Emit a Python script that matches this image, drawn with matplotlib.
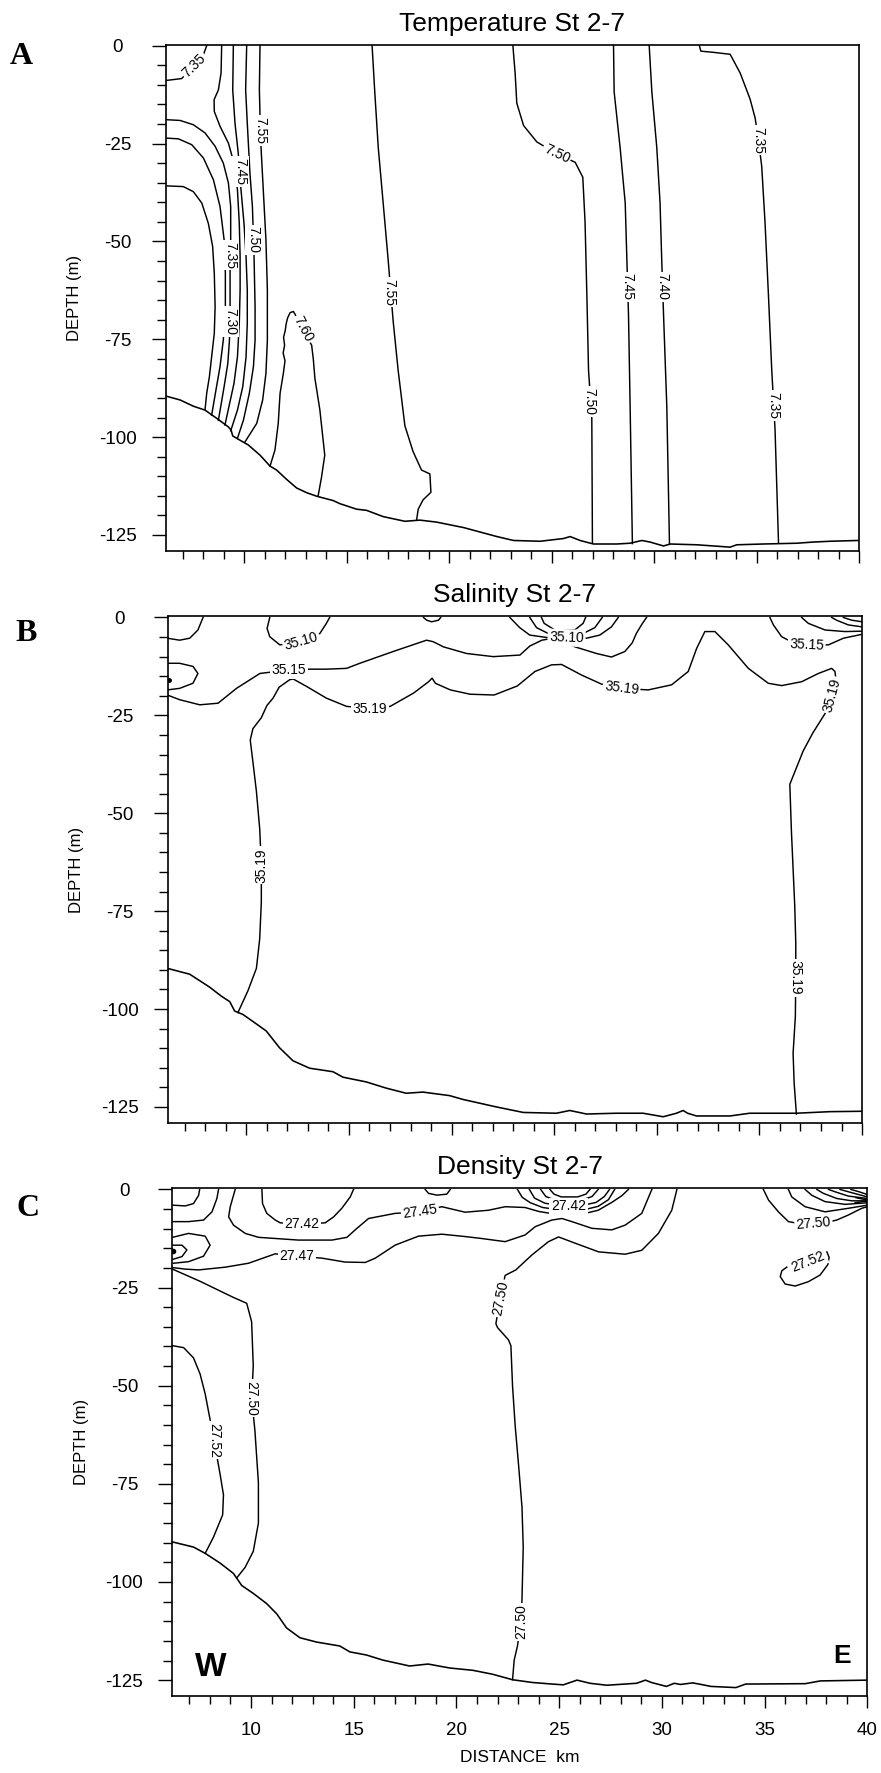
import numpy as np
import matplotlib
matplotlib.use("Agg")
import matplotlib.pyplot as plt

plt.rcParams['font.family'] = ['Liberation Sans', 'DejaVu Sans']

# ---------------- A: temperature ----------------
temp_bottom_km = [6.17, 6.87, 7.52, 8.09, 8.74, 9.23, 9.36, 9.44, 9.80, 10.20, 10.77, 11.26, 11.58,
                  12.07, 12.56, 13.05, 13.54, 14.34, 14.67, 15.48, 15.97, 16.78, 17.84, 18.57, 19.38,
                  20.70, 22.33, 23.14, 24.44, 25.58, 25.90, 26.39, 27.04, 28.18, 28.83, 29.40, 29.80,
                  30.46, 30.78, 32.08, 33.71, 34.03, 35.33, 36.96, 37.77, 38.58, 39.94, 40.0]
temp_bottom_z = [-89.5, -90.5, -92.1, -93.1, -95.5, -97.4, -98.2, -99.7, -100.8, -102.0, -104.6, -107.4, -108.4,
                 -110.8, -113.0, -114.2, -115.1, -116.2, -117.0, -118.4, -118.7, -120.3, -121.5, -121.2, -121.7,
                 -123.1, -125.4, -126.4, -126.6, -125.9, -125.4, -126.4, -127.3, -127.3, -127.1, -126.4, -126.8,
                 -127.8, -127.3, -127.5, -128.1, -127.5, -127.3, -127.1, -126.8, -126.6, -126.4, -126.4]

temp_lines = [
    (7.35, [6.17, 6.95, 7.55, 8.01, 8.17], [-8.9, -8.4, -5.0, -2.3, 0.0]),
    (7.30, [6.17, 7.03, 7.52, 7.93, 8.25, 8.46, 8.54, 8.58, 8.54, 8.41, 8.30, 8.17, 8.09],
           [-35.8, -36.0, -37.3, -40.2, -45.4, -51.3, -58.1, -66.7, -73.5, -79.5, -84.6, -88.8, -92.9]),
    (7.30, [6.17, 6.79, 7.44, 8.01, 8.50, 8.82, 9.02, 9.08, 9.08, 8.98, 8.82, 8.62, 8.41],
           [-23.6, -23.8, -25.3, -28.7, -34.3, -41.1, -49.6, -58.1, -66.7, -75.2, -82.0, -88.0, -94.4]),
    (7.35, [6.17, 6.87, 7.52, 8.09, 8.58, 8.98, 9.23, 9.34, 9.34, 9.31, 9.31, 9.28, 9.20, 9.02, 8.74],
           [-18.9, -19.1, -20.2, -22.3, -25.7, -30.0, -35.1, -41.1, -49.6, -58.1, -66.7, -75.2, -81.2, -87.1, -95.7]),
    (7.40, [8.90, 8.87, 8.74, 8.53, 8.54, 8.82, 9.23, 9.50, 9.67, 9.76, 9.80, 9.80, 9.76, 9.67, 9.50, 9.06],
           [0.0, -7.0, -11.3, -13.8, -16.8, -20.6, -24.9, -30.0, -36.8, -45.4, -53.9, -62.4, -70.9, -79.5, -86.3, -96.9]),
    (7.45, [9.47, 9.44, 9.55, 9.71, 9.83, 9.99, 10.09, 10.15, 10.15, 10.09, 9.93, 9.67, 9.34],
           [0.0, -11.3, -19.8, -27.5, -36.0, -45.4, -53.9, -62.4, -70.9, -79.5, -87.1, -93.1, -98.4]),
    (7.50, [10.12, 10.07, 10.15, 10.28, 10.40, 10.48, 10.53, 10.53, 10.45, 10.25, 9.96, 9.67],
           [0.0, -11.3, -19.8, -32.6, -41.1, -53.9, -66.7, -75.2, -82.0, -88.8, -95.7, -100.3]),
    (7.55, [10.77, 10.74, 10.80, 10.93, 11.06, 11.13, 11.13, 11.06, 10.90, 10.61, 10.04],
           [0.0, -11.3, -24.0, -36.8, -49.6, -62.4, -75.2, -83.7, -90.5, -96.5, -101.2]),
    (7.60, [11.26, 11.50, 11.66, 11.75, 11.91, 11.99, 11.90, 11.97, 11.92, 12.00, 12.05, 12.12, 12.24,
            12.40, 12.50, 12.85, 13.29, 13.37, 13.45, 13.69, 13.93, 13.77, 13.61],
           [-107.4, -103.3, -96.5, -88.8, -83.7, -80.5, -78.5, -76.5, -74.5, -72.8, -71.0, -69.5, -68.2,
            -67.9, -68.8, -72.5, -76.5, -80.0, -85.0, -93.0, -104.6, -110.3, -114.9]),
    (7.55, [16.24, 16.37, 16.54, 16.78, 17.02, 17.27, 17.51, 17.84, 18.24, 18.65, 19.06, 19.11, 18.73, 18.49, 18.41],
           [0.0, -11.8, -26.0, -40.2, -54.5, -70.5, -82.9, -97.1, -103.7, -108.4, -109.4, -114.1, -116.0, -118.4, -121.2]),
    (7.50, [23.11, 23.22, 23.30, 23.63, 24.28, 25.25, 26.15, 26.52, 26.63, 26.72, 26.80, 26.96, 26.99],
           [0.0, -7.1, -14.7, -20.4, -24.6, -27.6, -29.8, -33.6, -45.0, -63.9, -82.9, -95.2, -127.0]),
    (7.45, [28.02, 28.05, 28.34, 28.59, 28.67, 28.75, 28.83, 28.94],
           [0.0, -11.8, -26.0, -40.2, -54.5, -68.7, -92.3, -127.2]),
    (7.40, [29.76, 29.89, 30.13, 30.29, 30.37, 30.46, 30.62, 30.75],
           [0.0, -11.8, -26.0, -40.2, -54.5, -68.7, -92.3, -127.4]),
    (7.35, [32.21, 32.28, 32.89, 33.71, 34.20, 34.68, 34.93, 35.09, 35.25, 35.41, 35.58, 35.74, 35.90, 36.07],
           [0.0, -1.4, -1.7, -2.2, -7.0, -13.6, -18.5, -24.1, -30.8, -45.0, -63.9, -82.9, -98.0, -127.1]),
]

# (value, km, depth, angle)
temp_labels = [
    (7.35, 7.55, -5.0, 45), (7.55, 10.77, -21.7, -90), (7.45, 9.80, -32.1, -90),
    (7.50, 10.45, -49.6, -90), (7.35, 9.34, -53.5, -90), (7.30, 9.31, -70.5, -90),
    (7.60, 12.85, -72.5, -62), (7.55, 17.10, -63.0, -90), (7.50, 25.25, -27.6, -25),
    (7.50, 26.85, -90.9, -90), (7.45, 28.67, -61.6, -90), (7.40, 30.42, -61.6, -90),
    (7.35, 35.09, -24.1, -90), (7.35, 35.82, -91.9, -90),
]

# ---------------- B: salinity ----------------
sal_bottom_km = [6.15, 7.24, 8.21, 8.78, 9.19, 9.43, 9.84, 10.49, 10.97, 11.62, 12.27, 13.08, 14.22, 14.71,
                 15.84, 16.82, 17.79, 18.60, 19.90, 20.57, 22.19, 23.49, 25.11, 25.76, 26.57, 28.04, 29.33,
                 30.31, 30.96, 31.28, 31.50, 31.93, 33.56, 34.53, 36.80, 38.43, 40.0]
sal_bottom_z = [-89.6, -91.1, -94.4, -96.7, -98.1, -100.5, -101.4, -103.8, -105.6, -109.9, -113.2, -115.1, -116.0, -117.4,
                -118.6, -120.2, -121.5, -121.2, -122.1, -123.1, -125.0, -126.4, -126.6, -125.9, -126.8, -126.6, -126.6,
                -127.5, -126.6, -125.9, -126.6, -127.3, -127.3, -126.6, -126.6, -126.2, -126.1]

sal_lines = [
    (35.10, [6.15, 6.75, 7.24, 7.64, 7.89], [-5.3, -5.8, -5.3, -3.2, 0.0]),
    (35.15, [6.15, 6.75, 7.40, 7.64, 7.40, 6.75, 6.15], [-11.7, -11.7, -12.5, -14.3, -16.8, -18.1, -18.5]),
    (35.10, [11.14, 11.01, 11.14, 11.63, 12.68, 13.58, 13.90, 14.06], [0.0, -2.8, -4.9, -7.0, -6.2, -4.1, -1.5, 0.0]),
    (35.10, [18.63, 18.79, 19.03, 19.36, 19.47], [0.0, -0.7, -1.1, -0.7, 0.0]),
    (35.15, [6.15, 6.75, 7.73, 8.62, 9.52, 10.66, 12.06, 13.09, 13.90, 14.88, 15.53, 17.15, 18.78, 19.11,
             19.60, 20.73, 22.03, 23.33, 23.81, 24.40, 24.95, 25.50, 26.01, 27.06, 27.79, 28.44, 28.80, 29.01, 29.30, 29.50],
            [-19.8, -21.0, -22.3, -21.9, -18.1, -14.3, -13.4, -13.2, -13.2, -13.0, -11.7, -8.7, -5.8, -6.2,
             -7.5, -9.2, -10.0, -9.6, -7.3, -5.8, -5.3, -6.2, -7.5, -9.2, -10.1, -8.7, -6.5, -4.0, -1.5, 0.0]),
    (35.05, [24.38, 24.51, 25.03, 26.00, 26.41, 26.53], [0.0, -1.5, -3.2, -3.2, -1.5, 0.0]),
    (35.07, [23.81, 24.14, 24.79, 26.33, 26.98, 27.34], [0.0, -2.6, -4.3, -4.3, -2.6, 0.0]),
    (35.10, [22.84, 23.32, 23.81, 24.62, 25.60, 26.57, 27.22, 27.79, 28.12], [0.0, -2.6, -4.5, -5.1, -5.2, -5.3, -4.5, -2.4, 0.0]),
    (35.19, [9.59, 10.08, 10.49, 10.65, 10.73, 10.73, 10.65, 10.49, 10.32, 10.19, 10.32, 10.73, 11.00, 11.30,
             11.60, 12.11, 12.28, 12.93, 13.90, 14.88, 16.03, 17.01, 18.15, 18.88, 19.05, 19.21, 19.94, 20.90,
             22.07, 23.20, 24.06, 24.87, 25.36, 26.33, 27.30, 28.28, 29.58, 30.72, 31.53, 31.94, 32.34, 32.83,
             33.48, 34.46, 35.43, 36.08, 37.06, 37.87, 38.52, 38.68, 38.71, 38.60, 38.52, 38.20, 37.60, 37.13,
             36.48, 36.56, 36.72, 36.77, 36.77, 36.75, 36.64, 36.69, 36.80],
            [-100.9, -95.3, -89.6, -82.1, -72.7, -63.3, -53.9, -44.4, -36.9, -31.3, -28.4, -25.6, -22.5, -20.6,
             -17.8, -15.9, -15.7, -17.6, -20.6, -22.7, -23.3, -22.7, -19.3, -16.4, -15.5, -16.8, -18.5, -19.6,
             -19.8, -17.5, -13.8, -12.1, -12.0, -14.7, -17.0, -18.1, -18.5, -17.2, -13.8, -7.9, -3.6, -3.6,
             -7.0, -13.0, -16.8, -17.4, -16.4, -14.3, -13.0, -13.8, -15.1, -16.8, -19.8, -24.5, -29.5, -34.1,
             -42.6, -54.8, -73.6, -83.1, -92.0, -101.9, -111.3, -118.8, -126.8]),
    (35.15, [35.51, 35.68, 36.08, 36.70, 37.30, 38.36, 39.09, 39.82, 40.0], [0.0, -1.9, -4.9, -6.6, -6.9, -7.0, -5.3, -4.5, -4.3]),
    (35.10, [37.06, 37.38, 38.20, 39.17, 40.0], [0.0, -1.5, -3.2, -3.6, -3.5]),
    (35.05, [38.52, 38.76, 39.33, 40.0], [0.0, -0.7, -1.9, -2.4]),
    (35.00, [39.09, 39.50, 40.0], [0.0, -0.7, -1.1]),
]

sal_labels = [
    (35.10, 12.68, -6.2, 16), (35.15, 12.06, -13.4, 0), (35.19, 16.03, -23.3, 0),
    (35.19, 10.73, -63.3, 90), (35.10, 25.60, -5.2, -2), (35.19, 28.28, -18.1, -7),
    (35.15, 37.30, -6.9, -3), (35.19, 38.52, -19.8, 75), (35.19, 36.77, -92.0, -90),
]

# ---------------- C: density ----------------
dens_bottom_km = [6.18, 7.20, 7.77, 8.50, 9.14, 9.34, 9.55, 10.11, 10.76, 11.25, 11.73, 12.38, 13.19, 14.32,
                  14.81, 15.62, 16.42, 17.72, 18.62, 19.66, 20.80, 21.76, 22.73, 23.70, 24.66, 25.20, 25.87,
                  26.50, 27.32, 28.20, 28.77, 29.20, 29.49, 30.22, 30.60, 30.90, 31.50, 31.91, 32.39, 33.60,
                  34.08, 36.98, 37.71, 40.0]
dens_bottom_z = [-89.8, -91.1, -92.7, -95.2, -97.8, -99.3, -100.9, -102.9, -105.5, -108.1, -111.7, -114.2, -115.3, -116.3,
                 -117.8, -118.6, -119.9, -121.4, -120.9, -121.9, -122.5, -123.5, -124.9, -125.6, -126.0, -126.2, -125.0,
                 -125.8, -126.3, -126.0, -125.8, -125.0, -125.6, -126.6, -125.8, -126.1, -125.7, -126.1, -126.6, -126.9,
                 -126.0, -125.9, -125.2, -125.0]

dens_lines = [
    (27.42, [6.18, 6.80, 7.20, 7.45, 7.50], [-4.0, -4.2, -3.6, -1.5, 0.0]),
    (27.45, [6.18, 6.96, 7.69, 8.10, 8.34, 8.42], [-8.2, -8.2, -7.8, -5.7, -2.3, 0.0]),
    (27.47, [6.18, 6.96, 7.77, 8.01, 7.69, 6.96, 6.23], [-12.2, -11.2, -11.9, -14.2, -17.0, -18.4, -18.8]),
    (27.45, [6.18, 6.64, 6.88, 6.64, 6.20], [-14.2, -14.2, -15.4, -17.1, -17.8]),
    (27.42, [10.53, 10.56, 10.77, 11.18, 11.42, 12.48, 13.61, 14.02, 14.42, 14.83, 14.99],
             [0.0, -3.6, -6.1, -7.8, -8.5, -8.9, -8.5, -7.0, -4.8, -1.9, 0.0]),
    (27.45, [9.23, 8.99, 8.91, 9.15, 9.72, 10.37, 12.31, 13.94, 14.67, 15.07, 15.72, 17.01, 18.23, 19.29,
             20.42, 21.56, 22.37, 23.34, 24.00, 24.80, 26.10, 26.90, 27.56, 28.05, 28.37],
            [0.0, -4.4, -7.0, -9.1, -11.2, -12.2, -12.9, -12.9, -12.2, -10.3, -7.4, -6.1, -5.7, -4.4,
             -5.8, -5.3, -4.4, -4.6, -5.6, -6.3, -6.3, -5.3, -3.3, -1.6, 0.0]),
    (27.42, [18.48, 18.64, 19.05, 19.53, 19.70], [0.0, -1.0, -1.45, -1.2, 0.0]),
    (27.47, [6.18, 6.80, 7.45, 8.75, 9.88, 10.69, 11.18, 12.23, 13.45, 14.58, 15.56, 16.05, 17.01, 18.15,
             19.29, 20.42, 21.23, 22.37, 23.34, 23.83, 24.64, 25.13, 25.62, 26.59, 27.56, 28.21, 29.02, 29.51],
            [-19.9, -20.3, -20.5, -19.8, -18.8, -17.3, -16.4, -17.0, -17.5, -18.5, -18.6, -17.5, -14.2, -11.9,
             -11.4, -12.0, -12.5, -13.3, -11.6, -9.5, -7.8, -7.4, -8.2, -9.9, -10.3, -9.1, -6.1, 0.0]),
    (27.50, [6.18, 7.52, 9.14, 9.79, 10.03, 10.11, 10.03, 10.19, 10.36, 10.36, 10.11, 9.71, 9.30],
            [-20.3, -23.4, -27.5, -29.0, -33.7, -45.0, -53.2, -61.4, -74.7, -85.0, -92.2, -96.3, -99.0]),
    (27.52, [6.18, 6.72, 7.20, 7.52, 7.77, 8.20, 8.50, 8.66, 8.62, 8.17, 7.77],
            [-39.8, -40.3, -42.9, -47.0, -52.1, -63.9, -72.7, -77.8, -82.9, -88.6, -92.7]),
    (27.50, [22.73, 22.81, 22.97, 23.14, 23.19, 23.25, 23.19, 23.03, 22.86, 22.73, 22.65, 22.53, 22.00, 21.92,
             22.13, 22.37, 22.89, 23.67, 24.48, 24.97, 25.78, 26.92, 28.21, 29.02, 29.83, 30.48, 30.73],
            [-124.9, -119.9, -116.3, -110.1, -104.5, -91.1, -80.9, -70.6, -60.3, -50.1, -39.8, -38.3, -35.2, -34.2,
             -27.7, -21.9, -20.5, -16.7, -13.3, -12.1, -13.7, -15.9, -16.5, -15.5, -11.2, -5.3, 0.0]),
    (27.44, [22.97, 23.20, 23.60, 24.20, 25.00, 26.20, 26.90, 27.40, 27.70], [0.0, -2.0, -3.4, -4.6, -5.2, -5.2, -4.3, -2.6, 0.0]),
    (27.42, [23.55, 23.80, 24.30, 25.00, 26.10, 26.80, 27.20, 27.45], [0.0, -2.2, -3.5, -4.1, -4.1, -3.3, -1.8, 0.0]),
    (27.40, [24.10, 24.35, 24.90, 26.00, 26.60, 26.90], [0.0, -1.8, -2.9, -2.9, -1.8, 0.0]),
    (27.38, [24.55, 24.75, 25.10, 25.90, 26.30, 26.50], [0.0, -1.2, -1.9, -1.9, -1.2, 0.0]),
    (27.50, [34.94, 35.19, 35.67, 36.16, 36.80, 37.38, 38.00, 38.51, 39.08, 39.73, 40.0],
            [0.0, -2.7, -5.7, -8.2, -8.8, -8.7, -8.4, -7.8, -6.5, -4.8, -4.4]),
    (27.47, [36.16, 36.32, 36.97, 37.94, 39.08, 40.0], [0.0, -1.9, -4.4, -5.7, -4.8, -4.0]),
    (27.45, [36.97, 37.30, 37.94, 38.92, 40.0], [0.0, -1.5, -3.1, -3.8, -3.4]),
    (27.42, [37.54, 37.86, 38.51, 39.24, 40.0], [0.0, -1.0, -2.3, -2.9, -2.9]),
    (27.40, [38.11, 38.43, 39.08, 40.0], [0.0, -0.6, -1.7, -2.3]),
    (27.38, [38.67, 39.08, 40.0], [0.0, -0.6, -1.9]),
    (27.36, [39.20, 39.60, 40.0], [0.0, -0.6, -1.3]),
    (27.34, [39.45, 39.80, 40.0], [-2.1, -2.5, -2.6]),
    (27.32, [39.40, 39.75, 40.0], [-3.4, -3.1, -3.0]),
    (27.52, [36.08, 35.84, 35.76, 36.00, 36.49, 37.13, 37.70, 38.07, 38.14, 38.03],
            [-19.8, -20.7, -22.2, -24.1, -24.6, -23.5, -21.8, -19.2, -17.3, -15.9]),
]

dens_labels = [
    (27.42, 12.48, -8.9, 0), (27.45, 18.23, -5.7, 8), (27.47, 12.23, -17.0, 0),
    (27.50, 10.03, -53.2, -90), (27.52, 8.20, -63.9, -90), (27.50, 22.13, -27.7, 79),
    (27.50, 23.14, -110.1, 90), (27.42, 25.45, -4.3, 0), (27.50, 37.38, -8.7, 5),
    (27.52, 37.13, -18.4, 22),
]

sal_dot_km, sal_dot_z = [6.22], [-16.0]
dens_dot_km, dens_dot_z = [6.22], [-15.8]

titles = ['Temperature St 2-7', 'Salinity St 2-7', 'Density St 2-7']
letters = ['A', 'B', 'C']

fig = plt.figure(figsize=(8.81, 17.73), dpi=100)
rects = [
    [0.1881, 0.6892, 0.7870, 0.2857],
    [0.1904, 0.3666, 0.7881, 0.2858],
    [0.1956, 0.0433, 0.7889, 0.2865],
]
letter_pos = [(10, 64), (15, 641), (16, 1216)]

panels = [
    (temp_bottom_km, temp_bottom_z, temp_lines, temp_labels),
    (sal_bottom_km, sal_bottom_z, sal_lines, sal_labels),
    (dens_bottom_km, dens_bottom_z, dens_lines, dens_labels),
]

axes = []
for i, (bkm, bz, lines, labels) in enumerate(panels):
    ax = fig.add_axes(rects[i])
    axes.append(ax)
    ax.plot(bkm, bz, color='black', lw=1.15)
    for level, km, z in lines:
        ax.plot(km, z, color='black', lw=1.05)
    for val, km, z, rot in labels:
        ax.text(km, z, f'{val:.2f}', rotation=rot, rotation_mode='anchor', ha='center', va='center',
                fontsize=10, zorder=4,
                bbox=dict(boxstyle='square,pad=0.12', fc='white', ec='none'))

    ax.set_xlim(6.17, 40)
    ax.set_ylim(-129.1, 0.3)
    ax.set_xticks(np.arange(10, 41, 5))
    ax.set_xticks(np.arange(7, 41, 1), minor=True)
    ax.set_yticks(np.arange(0, -126, -25))
    ax.set_yticks(np.arange(0, -126, -5), minor=True)
    ax.set_yticklabels([str(v) for v in np.arange(0, -126, -25)])
    ax.tick_params(axis='y', which='major', direction='out', length=10, width=1.0,
                   labelsize=13.5, pad=24.5)
    ax.tick_params(axis='y', which='minor', direction='out', length=6.5, width=1.0)
    ax.tick_params(axis='x', which='major', direction='out', length=8.5, width=1.0,
                   labelsize=13.5, pad=10)
    ax.tick_params(axis='x', which='minor', direction='out', length=5.5, width=1.0)
    plt.setp(ax.get_yticklabels(), ha='center')
    if i < 2:
        ax.tick_params(axis='x', labelbottom=False)
    for sp in ax.spines.values():
        sp.set_linewidth(1.2)

    ax.set_ylabel('DEPTH (m)', fontsize=12, va='center')
    ax.yaxis.set_label_coords(-0.131, 0.5)
    ax.set_title(titles[i], fontsize=19, pad=10)

    lx, ly = letter_pos[i]
    fig.text(lx / 881, 1 - ly / 1773, letters[i], fontsize=23, fontfamily='Liberation Serif',
             fontweight='bold', ha='left', va='baseline')

axes[1].plot(sal_dot_km, sal_dot_z, 'o', color='black', ms=2.5)
axes[2].plot(dens_dot_km, dens_dot_z, 'o', color='black', ms=3)

axes[2].set_xticklabels([str(v) for v in range(10, 41, 5)])
axes[2].set_xlabel('DISTANCE  km', fontsize=12.5, labelpad=8)
axes[2].text(7.28, -124.0, 'W', fontsize=24, fontweight='bold', ha='left', va='baseline')
axes[2].text(38.33, -120.6, 'E', fontsize=19, fontweight='bold', ha='left', va='baseline')

fig.savefig('out.png', dpi=100)
